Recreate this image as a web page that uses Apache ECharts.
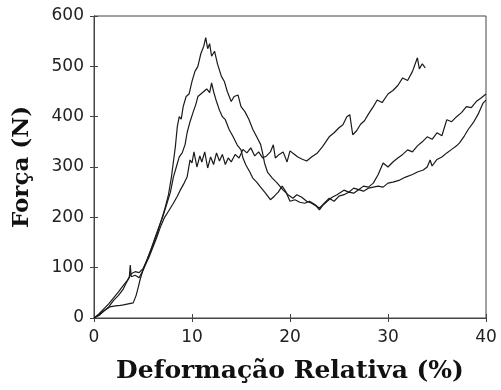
<!DOCTYPE html>
<html>
<head>
<meta charset="utf-8">
<script src="https://cdn.jsdelivr.net/npm/echarts@6/dist/echarts.min.js"></script>
<style>
  html, body { margin: 0; padding: 0; background: #fff; }
  #chart { width: 501px; height: 390px; }
</style>
</head>
<body>
<div id="chart"></div>
<script>
// deformação relativa (%) vs força (N), três ensaios
var xTicks = [0, 10, 20, 30, 40];
var yTicks = [0, 100, 200, 300, 400, 500, 600];

// ensaio com pico mais alto (~555 N)
var ensaioA = [
  [0,0],[0.5,5],[1,14],[1.5,22],[2,35],[2.5,45],[3,58],[3.3,70],[3.6,80],[3.7,105],[3.8,82],
  [4.2,85],[4.6,80],[5,95],[5.3,110],[5.6,125],[6,145],[6.4,165],[6.8,190],[7.2,215],[7.6,245],
  [7.9,280],[8.1,310],[8.3,340],[8.5,380],[8.7,400],[8.9,395],[9.1,420],[9.4,440],[9.7,445],
  [10,470],[10.3,490],[10.6,500],[10.9,525],[11.2,540],[11.4,557],[11.6,535],[11.8,545],[12,520],
  [12.3,530],[12.6,505],[13,480],[13.3,470],[13.6,450],[14,430],[14.3,440],[14.7,443],[15,420],
  [15.4,410],[15.8,395],[16.2,375],[16.6,360],[17,345],[17.2,328],[17.4,308],[17.7,290],[18.2,278],
  [18.7,268],[19.3,254],[19.8,245],[20.3,238],[20.7,245],[21.2,240],[21.7,232],[22.2,228],[22.7,222],
  [23,215],[23.4,225],[23.8,232],[24.3,240],[24.8,245],[25.5,254],[26,250],[26.5,258],[27,255],
  [27.5,262],[28,260],[28.5,268],[29,285],[29.5,308],[30,300],[30.5,310],[31,318],[31.5,325],
  [32,334],[32.5,330],[33,342],[33.5,350],[34,360],[34.5,355],[35,368],[35.5,362],[36,394],
  [36.5,390],[37,400],[37.5,408],[38,420],[38.5,418],[39,430],[39.5,437],[40,445]
];

// ensaio com pico intermediário (~467 N)
var ensaioB = [
  [0,0],[0.5,8],[1,18],[1.5,28],[2,40],[2.5,52],[3,65],[3.4,75],[3.8,88],[4.2,92],[4.6,90],
  [5,98],[5.4,115],[5.8,135],[6.2,158],[6.6,180],[7,200],[7.4,225],[7.8,250],[8.1,280],[8.4,300],
  [8.7,320],[9,328],[9.3,345],[9.5,368],[9.8,390],[10.1,408],[10.4,425],[10.6,440],[10.9,445],
  [11.2,450],[11.5,455],[11.8,448],[12,467],[12.2,450],[12.5,430],[12.8,413],[13.1,400],[13.4,394],
  [13.8,374],[14.2,360],[14.6,344],[15,334],[15.2,318],[15.5,304],[15.9,290],[16.2,278],[16.6,270],
  [17,260],[17.5,248],[18,235],[18.4,242],[18.8,250],[19.2,262],[19.6,250],[20,232],[20.5,235],
  [21,230],[21.5,228],[22,232],[22.5,226],[23,218],[23.5,228],[24,238],[24.5,232],[25,242],
  [25.5,245],[26,250],[26.5,248],[27,255],[27.5,252],[28,258],[28.5,260],[29,262],[29.5,260],
  [30,268],[30.5,270],[31.2,274],[31.8,280],[32.5,285],[33,290],[33.6,294],[34,300],[34.3,314],
  [34.5,302],[35,315],[35.5,320],[36,328],[36.5,335],[37,342],[37.3,348],[37.8,362],[38.2,375],
  [38.7,388],[39.2,405],[39.7,427],[40,433]
];

// ensaio com patamar (~320 N) que termina em ~500 N
var ensaioC = [
  [0,0],[0.5,6],[1,14],[1.6,22],[2.2,24],[2.7,25],[3,26],[3.5,28],[4,30],[4.3,45],[4.5,60],
  [4.7,76],[5,95],[5.3,108],[5.6,120],[6,140],[6.4,160],[6.8,182],[7.2,200],[7.6,212],[8.1,228],
  [8.5,242],[8.8,254],[9.2,268],[9.5,280],[9.8,314],[10,308],[10.2,330],[10.5,300],[10.8,322],
  [11,310],[11.3,330],[11.6,298],[11.9,320],[12.2,305],[12.5,328],[12.8,312],[13.1,325],[13.4,305],
  [13.7,318],[14,310],[14.4,325],[14.8,318],[15.2,335],[15.6,328],[16,338],[16.4,322],[16.8,330],
  [17.2,318],[17.6,322],[18,330],[18.3,344],[18.5,318],[18.9,325],[19.3,330],[19.7,310],[20,332],
  [20.4,326],[20.8,320],[21.2,316],[21.7,312],[22.2,320],[22.8,328],[23.3,340],[24,360],[24.5,368],
  [25,378],[25.4,384],[25.8,400],[26.1,404],[26.4,364],[26.8,372],[27.2,385],[27.6,392],[28,405],
  [28.5,420],[28.9,433],[29.4,428],[30,445],[30.5,452],[31,462],[31.5,477],[32,472],[32.5,490],
  [33,517],[33.2,495],[33.5,505],[33.8,497]
];

var chart = echarts.init(document.getElementById('chart'), null, { renderer: 'canvas' });

var labelFont = { fontFamily: 'DejaVu Sans', fontSize: 17, color: '#222' };
var titleFont = { fontFamily: 'DejaVu Serif', fontWeight: 'bold', fontSize: 23, color: '#111' };
var frame = { show: true, lineStyle: { color: '#444', width: 1 } };
var tick = { show: true, inside: true, length: 4, lineStyle: { color: '#444' } };

function serie(data) {
  return {
    type: 'line',
    data: data,
    showSymbol: false,
    symbol: 'none',
    lineStyle: { color: '#1a1a1a', width: 1.2 },
    animation: false
  };
}

chart.setOption({
  animation: false,
  grid: { left: 94, right: 15, top: 16, bottom: 72, show: true, borderColor: '#444', borderWidth: 1 },
  xAxis: [
    {
      type: 'value', min: 0, max: 40, interval: 10,
      axisLine: frame, axisTick: tick, splitLine: { show: false },
      axisLabel: Object.assign({ margin: 11 }, labelFont),
      name: 'Deformação Relativa (%)', nameLocation: 'middle', nameGap: 41,
      nameTextStyle: Object.assign({}, titleFont, { fontSize: 25 })
    },
    {
      type: 'value', position: 'top', min: 0, max: 40, interval: 10,
      axisLine: frame, axisTick: tick, axisLabel: { show: false }, splitLine: { show: false }
    }
  ],
  yAxis: [
    {
      type: 'value', min: 0, max: 600, interval: 100,
      axisLine: frame, axisTick: tick, splitLine: { show: false },
      axisLabel: Object.assign({ margin: 10 }, labelFont),
      name: 'Força (N)', nameLocation: 'middle', nameGap: 60,
      nameTextStyle: titleFont
    },
    {
      type: 'value', position: 'right', min: 0, max: 600, interval: 100,
      axisLine: frame, axisTick: tick, axisLabel: { show: false }, splitLine: { show: false }
    }
  ],
  series: [serie(ensaioA), serie(ensaioB), serie(ensaioC)]
});
</script>
</body>
</html>
